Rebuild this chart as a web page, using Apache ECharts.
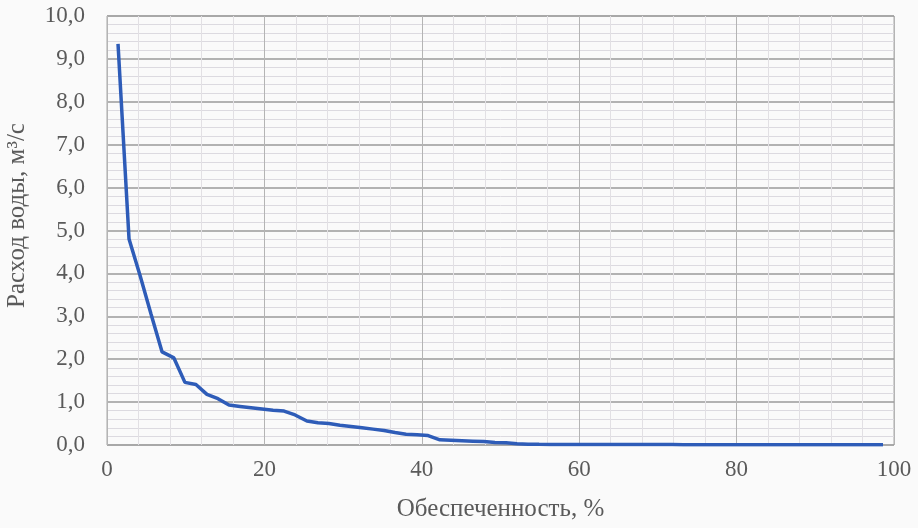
<!DOCTYPE html>
<html>
<head>
<meta charset="utf-8">
<script src="https://cdn.jsdelivr.net/npm/echarts@6/dist/echarts.min.js"></script>
<style>
  html, body { margin: 0; padding: 0; background: #fafafa; }
  #chart { width: 918px; height: 528px; }
</style>
</head>
<body>
<div id="chart"></div>
<script>
// обеспеченность, % (x) и расход воды, м3/с (y)
const percentValues = [
  1.4, 2.8, 4.2, 5.6, 7.0, 8.5, 9.9, 11.3, 12.7, 14.1,
  15.5, 16.9, 18.3, 19.7, 21.1, 22.5, 23.9, 25.4, 26.8, 28.2,
  29.6, 31.0, 32.4, 33.8, 35.2, 36.6, 38.0, 39.4, 40.8, 42.3,
  43.7, 45.1, 46.5, 47.9, 49.3, 50.7, 52.1, 53.5, 54.9, 56.3,
  57.7, 59.2, 60.6, 62.0, 63.4, 64.8, 66.2, 67.6, 69.0, 70.4,
  71.8, 73.2, 74.6, 76.1, 77.5, 78.9, 80.3, 81.7, 83.1, 84.5,
  85.9, 87.3, 88.7, 90.1, 91.5, 93.0, 94.4, 95.8, 97.2, 98.6
];
const flowValues = [
  9.35, 4.80, 3.95, 3.05, 2.17, 2.03, 1.46, 1.41, 1.18, 1.08,
  0.93, 0.90, 0.87, 0.84, 0.81, 0.79, 0.70, 0.56, 0.52, 0.50,
  0.46, 0.43, 0.40, 0.37, 0.34, 0.29, 0.25, 0.24, 0.22, 0.12,
  0.11, 0.10, 0.09, 0.08, 0.06, 0.05, 0.03, 0.02, 0.015, 0.012,
  0.012, 0.011, 0.011, 0.010, 0.010, 0.010, 0.010, 0.009, 0.009, 0.009,
  0.009, 0.008, 0.008, 0.008, 0.008, 0.007, 0.007, 0.007, 0.007, 0.006,
  0.006, 0.006, 0.006, 0.005, 0.005, 0.005, 0.005, 0.004, 0.004, 0.004
];

const font = "'Liberation Serif', 'DejaVu Serif', serif";
const labelColor = '#5a5a5a';

const chart = echarts.init(document.getElementById('chart'));
chart.setOption({
  backgroundColor: '#fafafa',
  animation: false,
  textStyle: { fontFamily: font },
  grid: {
    left: 107, right: 24, top: 16, bottom: 83,
    outerBoundsMode: 'none',
    show: true, borderColor: '#a8a8a8', borderWidth: 1
  },
  xAxis: {
    type: 'value', min: 0, max: 100, interval: 20,
    name: 'Обеспеченность, %',
    nameLocation: 'middle', nameGap: 52,
    nameTextStyle: { fontFamily: font, fontSize: 25, color: labelColor },
    axisLine: { show: false },
    axisTick: { show: false },
    axisLabel: { fontFamily: font, fontSize: 23, color: labelColor, margin: 13 },
    splitLine: { show: true, lineStyle: { color: '#b4b4b4', width: 1 } },
    minorTick: { show: false, splitNumber: 5 },
    minorSplitLine: { show: true, lineStyle: { color: '#e2e0e4', width: 1 } }
  },
  yAxis: {
    type: 'value', min: 0, max: 10, interval: 1,
    name: 'Расход воды, м³/с',
    nameLocation: 'middle', nameGap: 77,
    nameTextStyle: { fontFamily: font, fontSize: 25, color: labelColor, padding: [0, 0, 0, 30] },
    axisLine: { show: false },
    axisTick: { show: false },
    axisLabel: {
      fontFamily: font, fontSize: 23, color: labelColor, margin: 22,
      formatter: v => v.toFixed(1).replace('.', ',')
    },
    splitLine: { show: true, lineStyle: { color: '#9a9a9a', width: 1.5 } },
    minorTick: { show: false, splitNumber: 5 },
    minorSplitLine: { show: true, lineStyle: { color: '#dcdae0', width: 1 } }
  },
  series: [{
    type: 'line',
    data: percentValues.map((p, i) => [p, flowValues[i]]),
    showSymbol: false,
    lineStyle: { color: '#2e5cb8', width: 3.5 },
    z: 5
  }]
});
</script>
</body>
</html>
